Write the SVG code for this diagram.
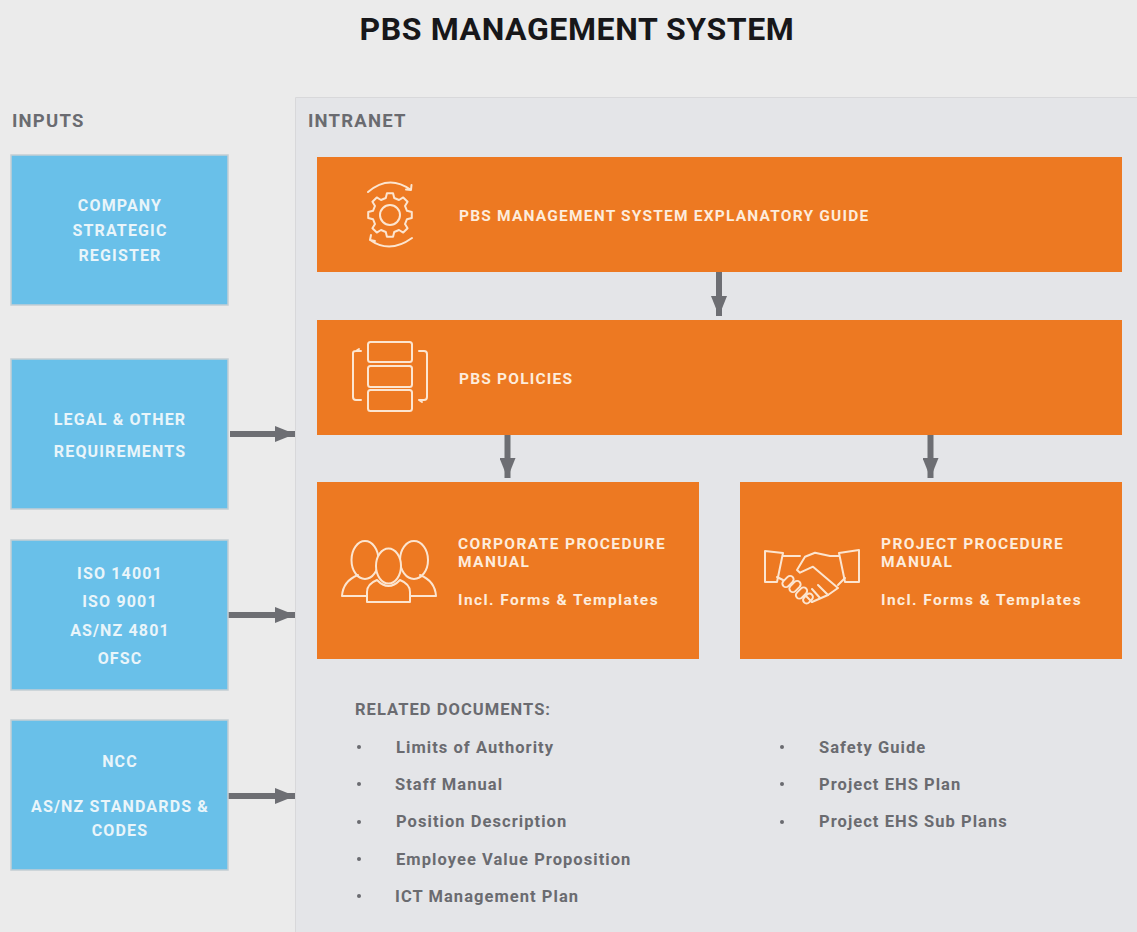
<svg xmlns="http://www.w3.org/2000/svg" width="1137" height="932" viewBox="0 0 1137 932">
<defs>
<style>
text{font-family:"Roboto","Liberation Sans",sans-serif;font-weight:700}
.title{font-size:32px;fill:#17171a;letter-spacing:.6px}
.hd{font-size:18.5px;fill:#6a6b70;letter-spacing:1.2px}
.in{fill:#69c0e9;stroke:#c4ced4;stroke-width:1.5}
.out{fill:#ed7922}
.w{font-size:16px;fill:#e9f5fa;text-anchor:middle;letter-spacing:1.15px}
.o{font-size:15.5px;fill:#fdecdc;letter-spacing:1.4px}
.o2{letter-spacing:1.2px}
.d{font-size:16.5px;fill:#6a6b70;letter-spacing:1.05px}
.ic{fill:none;stroke:#fce5d0;stroke-width:2;stroke-linecap:round;stroke-linejoin:round}
.c{stroke:#6d6e73;stroke-width:6;fill:none}
</style>
<marker id="a" markerUnits="userSpaceOnUse" markerWidth="20" markerHeight="16" refX="20" refY="8" orient="auto"><path d="M0 0L20 8L0 16z" fill="#6d6e73"/></marker>
</defs>
<rect width="1137" height="932" fill="#ebebeb"/>
<rect x="296" y="97" width="841" height="835" fill="#e4e5e8"/>
<path d="M295.500 932V97.500H1137" fill="none" stroke="#d8d8da"/>
<text class="title" x="577" y="40" text-anchor="middle">PBS MANAGEMENT SYSTEM</text>
<text class="hd" x="12" y="127">INPUTS</text>
<text class="hd" x="308" y="127">INTRANET</text>

<g id="connectors">
<line class="c" x1="719" y1="272" x2="719" y2="316" marker-end="url(#a)"/>
<line class="c" x1="507.500" y1="435" x2="507.500" y2="478" marker-end="url(#a)"/>
<line class="c" x1="930.500" y1="435" x2="930.500" y2="478" marker-end="url(#a)"/>
<line class="c" x1="230" y1="434" x2="295" y2="434" marker-end="url(#a)"/>
<line class="c" x1="228" y1="615" x2="295" y2="615" marker-end="url(#a)"/>
<line class="c" x1="228" y1="796" x2="295" y2="796" marker-end="url(#a)"/>
</g>

<g id="input-company">
<rect class="in" x="11" y="155" width="217" height="150"/>
<text class="w" x="120" y="211">COMPANY</text>
<text class="w" x="120" y="236">STRATEGIC</text>
<text class="w" x="120" y="261">REGISTER</text>
</g>
<g id="input-legal">
<rect class="in" x="11" y="359" width="217" height="150"/>
<text class="w" x="120" y="425">LEGAL &amp; OTHER</text>
<text class="w" x="120" y="457">REQUIREMENTS</text>
</g>
<g id="input-iso">
<rect class="in" x="11" y="540" width="217" height="150"/>
<text class="w" x="120" y="579">ISO 14001</text>
<text class="w" x="120" y="607">ISO 9001</text>
<text class="w" x="120" y="636">AS/NZ 4801</text>
<text class="w" x="120" y="664">OFSC</text>
</g>
<g id="input-ncc">
<rect class="in" x="11" y="720" width="217" height="150"/>
<text class="w" x="120" y="767">NCC</text>
<text class="w" x="120" y="812">AS/NZ STANDARDS &amp;</text>
<text class="w" x="120" y="836">CODES</text>
</g>

<g id="guide">
<rect class="out" x="317" y="157" width="805" height="115"/>
<g class="ic">
<circle cx="390" cy="215" r="10"/>
<path transform="translate(390 215)" d="M16.980-4.230L21.790-3.060V3.060L16.980 4.230L15 9.010L17.570 13.240L13.240 17.570L9.010 15L4.230 16.980L3.060 21.790H-3.060L-4.230 16.980L-9.010 15L-13.240 17.570L-17.570 13.240L-15 9.010L-16.980 4.230L-21.790 3.060V-3.060L-16.980-4.230L-15-9.010L-17.570-13.240L-13.240-17.570L-9.010-15L-4.230-16.980L-3.060-21.790H3.060L4.230-16.980L9.010-15L13.240-17.570L17.570-13.240L15-9.010z"/>
<path d="M368 192Q389 174 411 190M411 190l.5-5M411 190l-5-.5"/>
<path d="M370 240Q390 254 412 238M370 240l1 -5M370 240l5 1"/>
</g>
<text class="o o2" x="459" y="221">PBS MANAGEMENT SYSTEM EXPLANATORY GUIDE</text>
</g>
<g id="policies">
<rect class="out" x="317" y="320" width="805" height="115"/>
<g class="ic">
<rect x="368" y="342" width="44" height="20" rx="2.500"/>
<rect x="368" y="366" width="44" height="21" rx="2.500"/>
<rect x="368" y="390" width="44" height="21" rx="2.500"/>
<path d="M361 351h-5q-3 0-3 2v44q0 3 3 3h5M356 351l3-2M419 351h5q3 0 3 3v43q0 3-3 3h-5M419 400l3 2"/>
</g>
<text class="o o2" x="459" y="384">PBS POLICIES</text>
</g>
<g id="corporate">
<rect class="out" x="317" y="482" width="382" height="177"/>
<g class="ic">
<ellipse cx="365" cy="560" rx="13.500" ry="19"/>
<ellipse cx="414" cy="560" rx="14" ry="19"/>
<path d="M358 575Q343 581 342 596H367M420 575Q435 581 436 596H410"/>
<ellipse cx="388.500" cy="566" rx="12.500" ry="17.500" fill="#ed7922"/>
<path d="M377 580Q367 584 367 592V602H410V592Q410 584 400 580Q388.500 592 377 580z" fill="#ed7922"/>
</g>
<text class="o" x="458" y="549">CORPORATE PROCEDURE</text>
<text class="o" x="458" y="567">MANUAL</text>
<text class="o" x="458" y="605">Incl. Forms &amp; Templates</text>
</g>
<g id="project">
<rect class="out" x="740" y="482" width="382" height="177"/>
<g class="ic">
<path d="M765 551L783 553L777 582H765z"/>
<path d="M859 550L839 553L845 582H859z"/>
<path d="M783 556H800M777 577L783 580M839 556H830L815 552.700L805 556.700L797 570L800 572.700L813 566.700L838 588L828 595L812 602M845 578L838 585"/>
<path d="M828 595L818 585M820 598L812 589M812 602L805 595"/>
<rect x="784.500" y="575" width="7" height="13" rx="3.500" transform="rotate(45 788 581.500)"/>
<rect x="791.500" y="580" width="7" height="13" rx="3.500" transform="rotate(45 795 586.500)"/>
<rect x="798" y="586.500" width="7" height="13" rx="3.500" transform="rotate(45 801.500 593)"/>
<rect x="804.500" y="593" width="7" height="11" rx="3.500" transform="rotate(45 808 598.500)"/>
</g>
<text class="o" x="881" y="549">PROJECT PROCEDURE</text>
<text class="o" x="881" y="567">MANUAL</text>
<text class="o" x="881" y="605">Incl. Forms &amp; Templates</text>
</g>

<g id="related">
<text class="d" x="355" y="715">RELATED DOCUMENTS:</text>
<g fill="#6a6b70">
<circle cx="359" cy="747" r="2"/><circle cx="359" cy="784" r="2"/><circle cx="359" cy="822" r="2"/><circle cx="359" cy="859" r="2"/><circle cx="359" cy="896" r="2"/>
<circle cx="782" cy="747" r="2"/><circle cx="782" cy="784" r="2"/><circle cx="782" cy="822" r="2"/>
</g>
<text class="d" x="396" y="753">Limits of Authority</text>
<text class="d" x="395" y="790">Staff Manual</text>
<text class="d" x="396" y="827">Position Description</text>
<text class="d" x="396" y="865">Employee Value Proposition</text>
<text class="d" x="395" y="902">ICT Management Plan</text>
<text class="d" x="819" y="753">Safety Guide</text>
<text class="d" x="819" y="790">Project EHS Plan</text>
<text class="d" x="819" y="827">Project EHS Sub Plans</text>
</g>
</svg>
